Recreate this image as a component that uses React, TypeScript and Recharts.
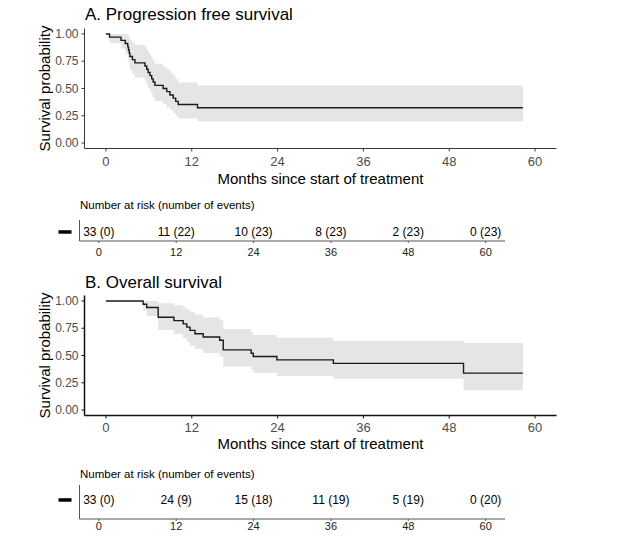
import React from 'react';
import { ComposedChart, Area, Line, XAxis, YAxis, Scatter } from 'recharts';

const FONT = '"Liberation Sans", Arial, Helvetica, sans-serif';
const TICK_GREY = '#4d4d4d';

const monthTicks = [0, 12, 24, 36, 48, 60];
const probTicks = [0, 0.25, 0.5, 0.75, 1];

// Progression free survival: Kaplan-Meier steps with 95% CI
const pfsTimes = [0, 0.5, 2.1, 2.7, 3.05, 3.15, 3.25, 3.35, 3.7, 4.05, 5.45, 5.7, 5.9, 6.15, 6.4, 6.6, 6.85, 8.0, 8.5, 8.95, 9.4, 9.75, 10.1, 12.8, 58.3];
const pfsSurv = [1, 0.971, 0.941, 0.912, 0.882, 0.853, 0.824, 0.794, 0.765, 0.735, 0.706, 0.676, 0.647, 0.618, 0.588, 0.559, 0.529, 0.500, 0.471, 0.441, 0.412, 0.382, 0.353, 0.324, 0.324];
const pfsLower = [1, 0.916, 0.865, 0.821, 0.780, 0.742, 0.705, 0.669, 0.635, 0.601, 0.568, 0.536, 0.505, 0.474, 0.444, 0.415, 0.385, 0.357, 0.330, 0.302, 0.276, 0.249, 0.224, 0.199, 0.199];
const pfsUpper = [1, 1, 1, 1, 0.997, 0.981, 0.963, 0.942, 0.922, 0.899, 0.877, 0.853, 0.829, 0.805, 0.779, 0.754, 0.726, 0.700, 0.673, 0.644, 0.616, 0.586, 0.556, 0.527, 0.527];

// Overall survival: Kaplan-Meier steps with 95% CI
const osTimes = [0, 5.2, 5.7, 7.3, 9.5, 10.8, 11.3, 11.75, 12.45, 13.6, 15.9, 16.4, 20.3, 20.6, 23.9, 31.8, 50.0, 58.3];
const osSurv = [1, 0.970, 0.940, 0.851, 0.820, 0.790, 0.760, 0.730, 0.700, 0.670, 0.640, 0.552, 0.521, 0.491, 0.460, 0.428, 0.338, 0.338];
const osLower = [1, 0.913, 0.861, 0.734, 0.697, 0.660, 0.625, 0.590, 0.557, 0.524, 0.491, 0.399, 0.370, 0.341, 0.313, 0.287, 0.182, 0.182];
const osUpper = [1, 1, 1, 0.980, 0.961, 0.940, 0.919, 0.897, 0.873, 0.849, 0.823, 0.744, 0.717, 0.689, 0.663, 0.633, 0.615, 0.615];

// Number-at-risk tables
const riskTimes = [0, 12, 24, 36, 48, 60];
const pfsAtRisk = [33, 11, 10, 8, 2, 0];
const pfsEvents = [0, 22, 23, 23, 23, 23];
const osAtRisk = [33, 24, 15, 11, 5, 0];
const osEvents = [0, 9, 18, 19, 19, 20];

const buildCurve = (times: number[], surv: number[], lower: number[], upper: number[]) =>
  times.map((t, i) => ({ t, s: surv[i], band: [lower[i], upper[i]] }));

const buildRisk = (atRisk: number[], events: number[], level: number) =>
  riskTimes.map((t, i) => ({ t, y: level, label: `${atRisk[i]} (${events[i]})` }));

type KMProps = {
  top: number;
  height: number;
  plotTop: number;
  plotBottom: number;
  data: { t: number; s: number; band: number[] }[];
  axisColor: string;
  axisWidth: number;
  tickGap: number;
};

function KMPanel({ top, height, plotTop, plotBottom, data, axisColor, axisWidth, tickGap }: KMProps) {
  const xAxisHeight = 40;
  const yAxisWidth = 50;
  const left = 84.5;
  const right = 556.5;
  return (
    <div style={{ position: 'absolute', left: 0, top }}>
      <ComposedChart
        width={641}
        height={height}
        data={data}
        margin={{ top: plotTop - top, left: left - yAxisWidth, right: 641 - right, bottom: height - (plotBottom - top) - xAxisHeight }}
      >
        <XAxis
          dataKey="t"
          type="number"
          domain={[-3, 63]}
          ticks={monthTicks}
          height={xAxisHeight}
          tickSize={3}
          tickMargin={tickGap}
          axisLine={{ stroke: axisColor, strokeWidth: axisWidth }}
          tickLine={{ stroke: axisColor }}
          tick={{ fontSize: 13, fill: TICK_GREY, fontFamily: FONT }}
          interval={0}
        />
        <YAxis
          type="number"
          domain={[-0.05, 1.05]}
          ticks={probTicks}
          width={yAxisWidth}
          tickSize={3}
          tickMargin={3}
          tickFormatter={(v: number) => v.toFixed(2)}
          axisLine={{ stroke: axisColor, strokeWidth: axisWidth }}
          tickLine={{ stroke: axisColor }}
          tick={{ fontSize: 12, fill: TICK_GREY, fontFamily: FONT }}
          interval={0}
        />
        <Area
          dataKey="band"
          type="stepAfter"
          fill="#e5e5e5"
          fillOpacity={1}
          stroke="none"
          isAnimationActive={false}
          dot={false}
          activeDot={false}
        />
        <Line
          dataKey="s"
          type="stepAfter"
          stroke="#1a1a1a"
          strokeWidth={1.4}
          dot={false}
          activeDot={false}
          isAnimationActive={false}
        />
      </ComposedChart>
    </div>
  );
}

type RiskProps = {
  top: number;
  height: number;
  plotTop: number;
  plotBottom: number;
  rows: { t: number; y: number; label: string }[];
  level: number;
  tickGap: number;
};

const RiskCell = (props: any) => {
  const { cx, cy, payload } = props;
  if (cx == null || cy == null) return null;
  return (
    <text x={cx} y={cy} dy="0.35em" textAnchor="middle" fontSize={12} fontFamily={FONT} fill="#000">
      {payload.label}
    </text>
  );
};

const StrataKey = (props: any) => {
  const { x, y } = props;
  return <rect x={x - 13} y={y - 1.75} width={13} height={3.5} fill="#000" />;
};

function RiskTable({ top, height, plotTop, plotBottom, rows, level, tickGap }: RiskProps) {
  const xAxisHeight = 20;
  const yAxisWidth = 40;
  const left = 79.5;
  const right = 505;
  return (
    <div style={{ position: 'absolute', left: 0, top }}>
      <ComposedChart
        width={641}
        height={height}
        data={rows}
        margin={{ top: plotTop - top, left: left - yAxisWidth, right: 641 - right, bottom: height - (plotBottom - top) - xAxisHeight }}
      >
        <XAxis
          dataKey="t"
          type="number"
          domain={[-3, 63]}
          ticks={monthTicks}
          height={xAxisHeight}
          tickSize={2}
          tickMargin={tickGap}
          axisLine={{ stroke: '#555' }}
          tickLine={{ stroke: '#555' }}
          tick={{ fontSize: 11, fill: '#222', fontFamily: FONT }}
          interval={0}
        />
        <YAxis
          type="number"
          domain={[0, 1]}
          ticks={[level]}
          width={yAxisWidth}
          tickSize={0}
          tickMargin={8}
          axisLine={{ stroke: '#555' }}
          tickLine={false}
          tick={<StrataKey />}
          interval={0}
        />
        <Scatter dataKey="y" data={rows} shape={<RiskCell />} isAnimationActive={false} />
      </ComposedChart>
    </div>
  );
}

const pfsData = buildCurve(pfsTimes, pfsSurv, pfsLower, pfsUpper);
const osData = buildCurve(osTimes, osSurv, osLower, osUpper);
const pfsRisk = buildRisk(pfsAtRisk, pfsEvents, 0.43);
const osRisk = buildRisk(osAtRisk, osEvents, 0.56);

export default function App() {
  return (
    <div style={{ position: 'absolute', left: 0, top: 0, width: 641, height: 540, background: '#fff', fontFamily: FONT }}>
      <KMPanel top={0} height={200} plotTop={28.5} plotBottom={148.5} data={pfsData} axisColor="#3a3a3a" axisWidth={1} tickGap={5} />
      <RiskTable top={190} height={75} plotTop={220} plotBottom={241} rows={pfsRisk} level={0.43} tickGap={5} />
      <KMPanel top={270} height={200} plotTop={295.5} plotBottom={415.5} data={osData} axisColor="#111" axisWidth={1.5} tickGap={4} />
      <RiskTable top={460} height={80} plotTop={485} plotBottom={519} rows={osRisk} level={0.56} tickGap={1} />
      <svg width={641} height={540} style={{ position: 'absolute', left: 0, top: 0, pointerEvents: 'none' }}>
        <g fontFamily={FONT} fill="#000">
          <text x={85} y={20} fontSize={17}>A. Progression free survival</text>
          <text x={320.5} y={183.5} fontSize={15} textAnchor="middle">Months since start of treatment</text>
          <text x={50} y={88.5} fontSize={15} textAnchor="middle" transform="rotate(-90, 50, 88.5)">Survival probability</text>
          <text x={80} y={209} fontSize={11.5}>Number at risk (number of events)</text>

          <text x={85} y={288} fontSize={17}>B. Overall survival</text>
          <text x={320.5} y={449} fontSize={15} textAnchor="middle">Months since start of treatment</text>
          <text x={50} y={355.5} fontSize={15} textAnchor="middle" transform="rotate(-90, 50, 355.5)">Survival probability</text>
          <text x={80} y={478} fontSize={11.5}>Number at risk (number of events)</text>
        </g>
      </svg>
    </div>
  );
}
